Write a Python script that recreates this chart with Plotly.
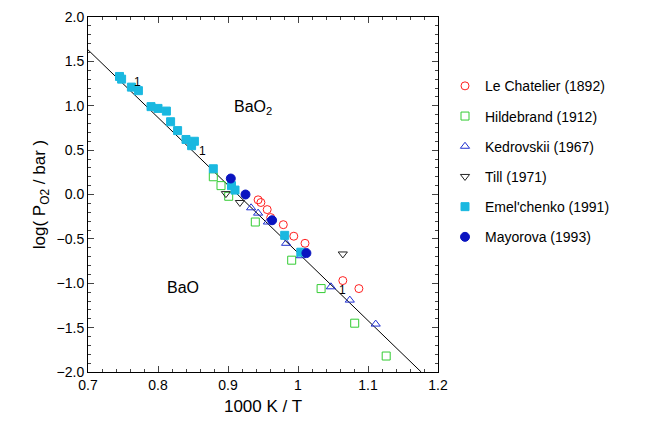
import plotly.graph_objects as go

# 1000 K / T and log(P_O2 / bar)
lechat_x = [0.943, 0.947, 0.956, 0.961, 0.979, 0.994, 1.010, 1.064, 1.087]
lechat_y = [-0.06, -0.09, -0.17, -0.26, -0.34, -0.47, -0.55, -0.97, -1.06]

hild_x = [0.879, 0.890, 0.901, 0.939, 0.991, 1.033, 1.081, 1.126]
hild_y = [0.20, 0.10, -0.02, -0.31, -0.74, -1.06, -1.45, -1.82]

kedr_x = [0.933, 0.943, 0.957, 0.983, 1.004, 1.047, 1.074, 1.111]
kedr_y = [-0.15, -0.21, -0.31, -0.55, -0.69, -1.04, -1.19, -1.46]

till_x = [0.897, 0.917, 1.064]
till_y = [0.01, -0.09, -0.67]

emel_x = [0.745, 0.748, 0.762, 0.772, 0.790, 0.800, 0.812, 0.818, 0.828,
          0.840, 0.848, 0.852, 0.879, 0.905, 0.910, 0.981, 1.004]
emel_y = [1.33, 1.30, 1.21, 1.17, 0.99, 0.97, 0.94, 0.82, 0.72,
          0.62, 0.55, 0.60, 0.29, 0.10, 0.05, -0.46, -0.65]

mayo_x = [0.904, 0.925, 0.963, 1.012]
mayo_y = [0.18, 0.00, -0.29, -0.66]

fit_x = [0.70, 1.176]
fit_y = [1.63, -2.0]

fig = go.Figure()
fig.add_trace(go.Scatter(x=fit_x, y=fit_y, mode='lines', line=dict(color='black', width=1),
                         showlegend=False))

series = [
  ("Le Chatelier (1892)", lechat_x, lechat_y, 'circle-open', '#ff2020', 8),
  ("Hildebrand (1912)", hild_x, hild_y, 'square-open', '#33cc33', 8),
  ("Kedrovskii (1967)", kedr_x, kedr_y, 'triangle-up-open', '#2030d0', 8),
  ("Till (1971)", till_x, till_y, 'triangle-down-open', '#222222', 8),
  ("Emel'chenko (1991)", emel_x, emel_y, 'square', '#1ab8e0', 8),
  ("Mayorova (1993)", mayo_x, mayo_y, 'circle', '#0a14c0', 9),
]
for name, xs, ys, sym, col, sz in series:
  fig.add_trace(go.Scatter(x=xs, y=ys, mode='markers', name=name, legendgroup=name,
                           marker=dict(symbol=sym, color=col, size=sz, line=dict(color=col, width=1))))

fig.add_annotation(x=0.935, y=0.98, text="BaO<sub>2</sub>", showarrow=False, font=dict(size=16))
fig.add_annotation(x=0.836, y=-1.05, text="BaO", showarrow=False, font=dict(size=16))
for tx, ty in [(0.771, 1.27), (0.864, 0.49), (1.064, -1.08)]:
  fig.add_annotation(x=tx, y=ty, text="1", showarrow=False, font=dict(size=12))

ax = dict(showline=True, linecolor='black', mirror='ticks', ticks='inside', ticklen=6,
          showgrid=False, zeroline=False, tickfont=dict(size=14),
          minor=dict(ticks='inside', ticklen=3))
fig.update_layout(
  width=662, height=430, plot_bgcolor='white', paper_bgcolor='white',
  font=dict(family='Arial, Liberation Sans', color='black', size=14),
  margin=dict(l=80, r=232, t=9, b=66),
  xaxis=dict(ax, range=[0.7, 1.2], dtick=0.1, title=dict(text="1000 K / T", standoff=8)),
  yaxis=dict(ax, range=[-2, 2], dtick=0.5, tickformat='.1f', automargin=False,
             title=dict(text="log( P<sub>O2</sub> / bar )", standoff=6)),
  legend=dict(x=1.02, y=0.85, xanchor='left', yanchor='top', tracegroupgap=9,
              font=dict(size=14), bgcolor='rgba(0,0,0,0)'),
)

fig.write_html("out.html")
